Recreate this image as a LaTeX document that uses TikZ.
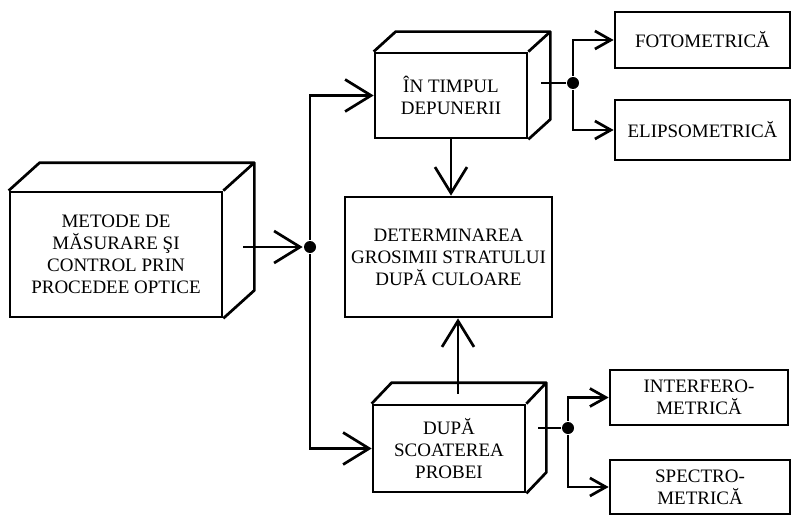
\documentclass[tikz,border=0pt]{standalone}
\usepackage{fontspec}
\setmainfont{Liberation Serif}
\usetikzlibrary{arrows.meta}

\tikzset{
  box/.style={draw,align=center,inner sep=0pt,font=\fontsize{19}{22}\selectfont},
  big/.style={-{Straight Barb[length=26pt,width=32pt]}},
  small/.style={-{Straight Barb[length=16pt,width=18pt]}},
  dot/.style={circle,fill,inner sep=0pt,minimum size=12pt}
}
% top and side faces of a box node: #1 name, (#2,#3) depth
\newcommand\boxdepth[3]{%
  \draw[line join=round] (#1.north west) -- ++(#2,#3)
    -- ([shift={(#2,#3)}]#1.north east) -- ([shift={(#2,#3)}]#1.south east)
    -- (#1.south east) (#1.north east) -- ++(#2,#3);}

\begin{document}
\begin{tikzpicture}[x=1pt,y=-1pt,line width=2.7pt]
  \useasboundingbox (0,0) rectangle (794,516);

  \node[box,minimum width=212pt,minimum height=125pt] (metode) at (116,254.5)
    {METODE DE\\MĂSURARE ŞI\\CONTROL PRIN\\PROCEDEE OPTICE};
  \node[box,minimum width=152pt,minimum height=85pt] (timpul) at (451,95.5)
    {ÎN TIMPUL\\DEPUNERII};
  \node[box,minimum width=207pt,minimum height=120pt] (determ) at (448.5,257)
    {DETERMINAREA\\GROSIMII STRATULUI\\DUPĂ CULOARE};
  \node[box,minimum width=152pt,minimum height=87pt] (dupa) at (449,448.5)
    {DUPĂ\\SCOATEREA\\PROBEI};
  \boxdepth{metode}{31}{-28}
  \boxdepth{timpul}{22}{-20}
  \boxdepth{dupa}{20}{-21}

  \node[box,minimum width=175pt,minimum height=56pt] (foto) at (702.5,40) {FOTOMETRICĂ};
  \node[box,minimum width=175pt,minimum height=60pt] (elipso) at (702.5,130) {ELIPSOMETRICĂ};
  \node[box,minimum width=178pt,minimum height=55pt] (interf) at (699,397.5) {INTERFERO-\\METRICĂ};
  \node[box,minimum width=180pt,minimum height=54pt] (spectro) at (700,487) {SPECTRO-\\METRICĂ};

  \node[dot] (j1) at (310,247) {};
  \node[dot] (j2) at (573,83) {};
  \node[dot] (j3) at (568,428) {};

  \draw[big] ([xshift=20pt]metode.east |- j1) -- (j1);
  \draw[big] (j1) |- (timpul);
  \draw[big] (j1) |- (dupa);
  \draw[big] (timpul.south) -- (timpul.south |- determ.north);
  \draw[big] ([xshift=9pt,yshift=10pt]dupa.north) -- ([xshift=9pt]dupa.north |- determ.south);

  \draw ([xshift=13pt]timpul.east |- j2) -- (j2);
  \draw ([xshift=12pt]dupa.east |- j3) -- (j3);
  \foreach \from/\to in {j2/foto,j2/elipso,j3/interf,j3/spectro}
    \draw[small] (\from) |- (\to);
\end{tikzpicture}
\end{document}
